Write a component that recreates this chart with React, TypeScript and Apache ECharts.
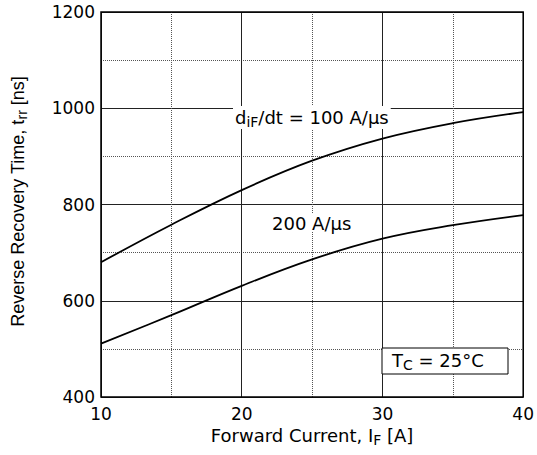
import React, { useEffect, useRef } from "react";
import * as echarts from "echarts";

const current = [10, 15, 20, 25, 30, 35, 40];
const trr100 = [680, 758, 830, 891, 937, 969, 992];
const trr200 = [511, 570, 631, 686, 729, 757, 778];
const label100 = "{a|d}{s|iF}{a|/dt = 100 A/µs}";
const label200 = "200 A/µs";
const labelTc = "{a|T}{s|C}{a| = 25°C}";
const xName = "{a|Forward Current, I}{s|F}{a| [A]}";
const yName = "{a|Reverse Recovery Time, t}{s|rr}{a| [ns]}";

const FONT = "DejaVu Sans";
const YFONT = "Liberation Sans";

const rich = {
  a: { fontFamily: FONT, fontSize: 18, color: "#000" },
  s: { fontFamily: FONT, fontSize: 14, color: "#000", padding: [9, 0, 0, 0] },
};
const richY = {
  a: { fontFamily: YFONT, fontSize: 18, color: "#000" },
  s: { fontFamily: YFONT, fontSize: 14, color: "#000", padding: [8, 0, 0, 0] },
};

export default function App() {
  const ref = useRef<HTMLDivElement>(null);
  useEffect(() => {
    const chart = echarts.init(ref.current!, null, { renderer: "svg" });
    const pts = (ys: number[]) => current.map((x, i) => [x, ys[i]]);
    chart.setOption({
      animation: false,
      backgroundColor: "#fff",
      grid: {
        left: 101,
        top: 12,
        right: 13,
        bottom: 58,
        show: true,
        borderColor: "#000",
        borderWidth: 1.5,
        z: 5,
      },
      xAxis: {
        type: "value",
        min: 10,
        max: 40,
        interval: 10,
        axisLine: { show: false },
        axisTick: { show: false },
        axisLabel: { color: "#000", fontFamily: FONT, fontSize: 17, margin: 8 },
        splitLine: { show: true, lineStyle: { color: "#222", width: 1 } },
        minorTick: { show: false, splitNumber: 2 },
        minorSplitLine: { show: true, lineStyle: { color: "#555", type: "dotted", width: 1 } },
        name: xName,
        nameLocation: "middle",
        nameGap: 27,
        nameTextStyle: { fontFamily: FONT, fontSize: 18, color: "#000", rich },
      },
      yAxis: {
        type: "value",
        min: 400,
        max: 1200,
        interval: 200,
        axisLine: { show: false },
        axisTick: { show: false },
        axisLabel: {
          color: "#000",
          fontFamily: FONT,
          fontSize: 17,
          margin: 6,
          formatter: (v: number) => String(v),
        },
        splitLine: { show: true, lineStyle: { color: "#222", width: 1 } },
        minorTick: { show: false, splitNumber: 2 },
        minorSplitLine: { show: true, lineStyle: { color: "#555", type: "dotted", width: 1 } },
        name: yName,
        nameLocation: "middle",
        nameGap: 72,
        nameTextStyle: {
          fontFamily: YFONT,
          fontSize: 18,
          color: "#000",
          rich: richY,
          padding: [0, 0, 0, 6],
        },
      },
      series: [
        {
          type: "line",
          data: pts(trr100),
          smooth: 0.4,
          showSymbol: false,
          lineStyle: { color: "#000", width: 1.8 },
          z: 3,
        },
        {
          type: "line",
          data: pts(trr200),
          smooth: 0.4,
          showSymbol: false,
          lineStyle: { color: "#000", width: 1.8 },
          z: 3,
        },
      ],
      graphic: [
        {
          type: "text",
          x: 233,
          y: 106,
          z: 100,
          style: {
            text: label100,
            rich,
            backgroundColor: "#fff",
            padding: [0, 2, 0, 2],
          },
        },
        {
          type: "text",
          x: 270,
          y: 214,
          z: 100,
          style: {
            text: label200,
            fontFamily: FONT,
            fontSize: 18,
            fill: "#000",
            backgroundColor: "#fff",
            padding: [0, 2, 0, 2],
          },
        },
        {
          type: "rect",
          z: 100,
          shape: { x: 382, y: 348, width: 126, height: 26 },
          style: { fill: "#fff", stroke: "#000", lineWidth: 1 },
        },
        {
          type: "text",
          x: 392,
          y: 349,
          z: 101,
          style: { text: labelTc, rich },
        },
      ],
    });
    return () => chart.dispose();
  }, []);
  return (
    <div
      ref={ref}
      style={{ width: 537, height: 455, position: "absolute", left: 0, top: 0 }}
    />
  );
}
